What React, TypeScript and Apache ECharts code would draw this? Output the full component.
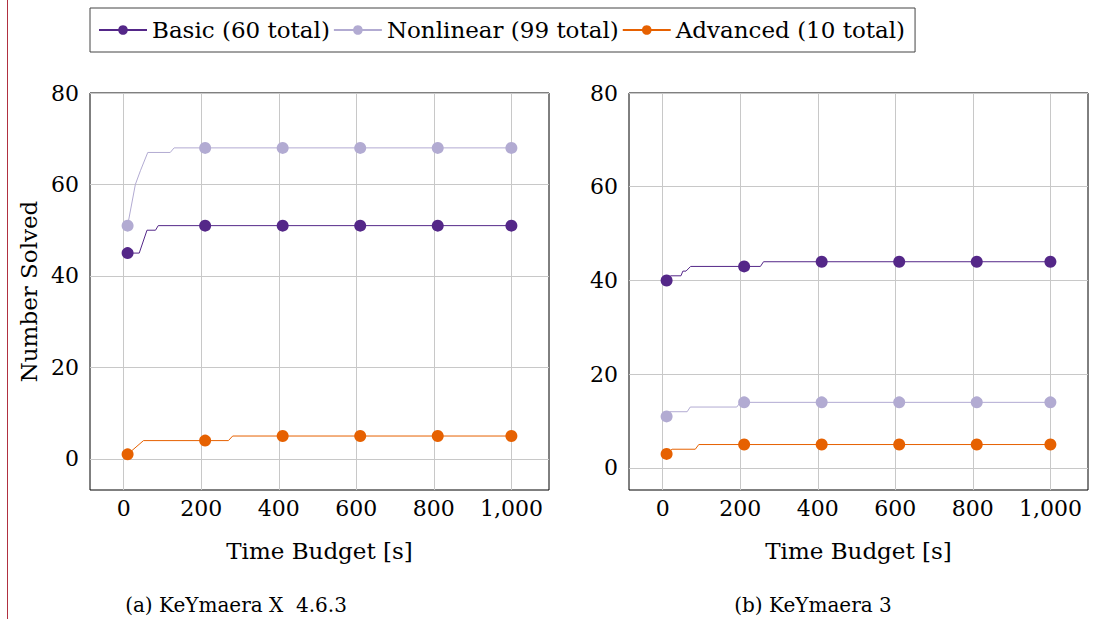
import React, { useEffect, useRef } from "react";
import * as echarts from "echarts";

const xTicks = [0, 200, 400, 600, 800, 1000];
const yTicks = [0, 20, 40, 60, 80];
const markerTimes = [10, 210, 410, 610, 810, 1000];

const seriesNames = ["Basic (60 total)", "Nonlinear (99 total)", "Advanced (10 total)"];
const seriesColors = ["#542788", "#b2abd2", "#e66101"];

// (a) KeYmaera X 4.6.3
const basicA = [[10, 45], [40, 45], [60, 50], [82, 50], [89, 51], [210, 51], [410, 51], [610, 51], [810, 51], [1000, 51]];
const nonlinearA = [[10, 51], [30, 60], [43, 63], [62, 67], [120, 67], [130, 68], [210, 68], [410, 68], [610, 68], [810, 68], [1000, 68]];
const advancedA = [[10, 1], [51, 4], [210, 4], [270, 4], [281, 5], [410, 5], [610, 5], [810, 5], [1000, 5]];

// (b) KeYmaera 3
const basicB = [[10, 40], [20, 41], [47, 41], [52, 42], [60, 42], [72, 43], [210, 43], [252, 43], [260, 44], [410, 44], [610, 44], [810, 44], [1000, 44]];
const nonlinearB = [[10, 11], [18, 12], [63, 12], [71, 13], [191, 13], [200, 14], [210, 14], [410, 14], [610, 14], [810, 14], [1000, 14]];
const advancedB = [[10, 3], [24, 4], [84, 4], [93, 5], [210, 5], [410, 5], [610, 5], [810, 5], [1000, 5]];

const xMin = -87;
const xMax = 1097;
const yMinA = -6.8;
const yMinB = -4.7;
const yMax = 80;

const FONT = "DejaVu Serif";

function toData(points: number[][]) {
  return points.map((p) =>
    markerTimes.includes(p[0]) ? { value: p } : { value: p, symbol: "none" }
  );
}

export default function App() {
  const ref = useRef<HTMLDivElement>(null);
  useEffect(() => {
    if (!ref.current) return;
    const chart = echarts.init(ref.current, null, { renderer: "svg" });
    const grids = [
      { left: 90, top: 93, width: 459, height: 397 },
      { left: 629, top: 93, width: 459, height: 397 },
    ];
    const mkX = (i: number) => ({
      type: "value",
      gridIndex: i,
      min: xMin,
      max: xMax,
      name: "Time Budget [s]",
      nameLocation: "middle",
      nameGap: 49,
      nameTextStyle: { fontFamily: FONT, fontSize: 23, color: "#000" },
      axisLine: { show: false },
      axisTick: { show: false, customValues: xTicks },
      axisLabel: {
        customValues: xTicks,
        fontFamily: FONT,
        fontSize: 22,
        color: "#000",
        margin: 7,
        formatter: (v: number) => v.toLocaleString("en-US"),
      },
      splitLine: { show: true, customValues: xTicks, lineStyle: { color: "#c8c8c8", width: 1 } },
    });
    const mkY = (i: number, min: number, name: string) => ({
      type: "value",
      gridIndex: i,
      min,
      max: yMax,
      name,
      nameLocation: "middle",
      nameRotate: 90,
      nameGap: 50,
      nameTextStyle: { fontFamily: FONT, fontSize: 23, color: "#000" },
      axisLine: { show: false },
      axisTick: { show: false, customValues: yTicks },
      axisLabel: {
        customValues: yTicks,
        fontFamily: FONT,
        fontSize: 22,
        color: "#000",
        margin: 11,
      },
      splitLine: { show: true, customValues: yTicks, lineStyle: { color: "#c8c8c8", width: 1 } },
    });
    const sets = [
      [basicA, nonlinearA, advancedA],
      [basicB, nonlinearB, advancedB],
    ];
    const series: any[] = [];
    sets.forEach((group, gi) => {
      group.forEach((pts, si) => {
        series.push({
          type: "line",
          name: seriesNames[si],
          xAxisIndex: gi,
          yAxisIndex: gi,
          data: toData(pts),
          symbol: "circle",
          symbolSize: 12,
          showAllSymbol: true,
          color: seriesColors[si],
          lineStyle: { width: 1, color: seriesColors[si] },
          itemStyle: { color: seriesColors[si] },
          z: 3 - si,
        });
      });
    });
    chart.setOption({
      animation: false,
      backgroundColor: "#fff",
      legend: {
        left: 90,
        top: 8,
        data: seriesNames,
        orient: "horizontal",
        itemWidth: 48,
        itemHeight: 12,
        itemGap: 3,
        padding: [8, 10, 8, 8],
        borderColor: "#444",
        borderWidth: 1,
        textStyle: { fontFamily: FONT, fontSize: 23, color: "#000", lineHeight: 28 },
      },
      grid: grids.map((g) => ({ ...g, show: true, borderColor: "#000", borderWidth: 1, backgroundColor: "transparent" })),
      xAxis: [mkX(0), mkX(1)],
      yAxis: [mkY(0, yMinA, "Number Solved"), mkY(1, yMinB, "")],
      series,
      graphic: [
        { type: "line", shape: { x1: 7.5, y1: 0, x2: 7.5, y2: 619 }, style: { stroke: "#b03040", lineWidth: 1 } },
        {
          type: "text",
          x: 236,
          y: 605,
          style: { text: "(a) KeYmaera X  4.6.3", fontFamily: FONT, fontSize: 20, fill: "#000", align: "center", verticalAlign: "middle" },
        },
        {
          type: "text",
          x: 813,
          y: 605,
          style: { text: "(b) KeYmaera 3", fontFamily: FONT, fontSize: 20, fill: "#000", align: "center", verticalAlign: "middle" },
        },
      ],
    });
    return () => chart.dispose();
  }, []);
  return <div ref={ref} style={{ position: "absolute", left: 0, top: 0, width: 1094, height: 619 }} />;
}
